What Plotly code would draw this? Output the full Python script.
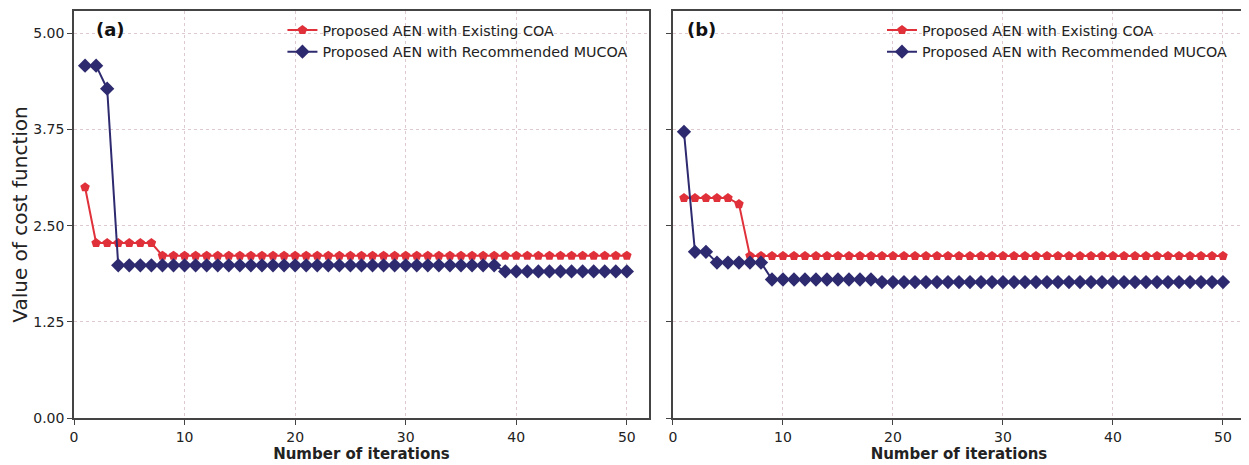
import plotly.graph_objects as go

iterations = list(range(1, 51))

# Panel (a)
a_existing = [3.00] + [2.275] * 6 + [2.11] * 43
a_mucoa = [4.58, 4.58, 4.28] + [1.985] * 35 + [1.905] * 12

# Panel (b)
b_existing = [2.86] * 5 + [2.78] + [2.107] * 44
b_mucoa = [3.72, 2.16, 2.16] + [2.02] * 5 + [1.80] * 10 + [1.767] * 32

y_ticks = [0.0, 1.25, 2.5, 3.75, 5.0]
y_tick_labels = ["0.00", "1.25", "2.50", "3.75", "5.00"]
x_ticks = [0, 10, 20, 30, 40, 50]

name_existing = "Proposed AEN with Existing COA"
name_mucoa = "Proposed AEN with Recommended MUCOA"

RED = "#E0313B"
BLUE = "#2E2A6F"
FONT = "DejaVu Sans"

fig = go.Figure()

def add_pair(xaxis, yaxis, existing, mucoa, legend):
    fig.add_trace(go.Scatter(
        x=iterations, y=existing, mode="lines+markers", name=name_existing,
        line=dict(color=RED, width=2),
        marker=dict(symbol="pentagon", size=10, color=RED),
        xaxis=xaxis, yaxis=yaxis, legend=legend))
    fig.add_trace(go.Scatter(
        x=iterations, y=mucoa, mode="lines+markers", name=name_mucoa,
        line=dict(color=BLUE, width=2),
        marker=dict(symbol="diamond", size=11, color=BLUE),
        xaxis=xaxis, yaxis=yaxis, legend=legend))

add_pair("x", "y", a_existing, a_mucoa, "legend")
add_pair("x2", "y2", b_existing, b_mucoa, "legend2")

axis_common = dict(
    showline=True, mirror=True, linecolor="#444444", linewidth=1.6,
    ticks="outside", ticklen=5, tickcolor="#444444", tickwidth=1.2,
    showgrid=True, gridcolor="#DCCACE", griddash="dot", gridwidth=1,
    zeroline=False, tickfont=dict(family=FONT, size=14, color="#222222"),
)

xa = dict(axis_common, range=[0, 52], tickvals=x_ticks,
          title=dict(text="<b>Number of iterations</b>", font=dict(family=FONT, size=15, color="#222222"), standoff=5))
fig.update_layout(
    xaxis=dict(xa, domain=[0, 0.491], anchor="y"),
    xaxis2=dict(xa, domain=[0.5115, 1.0], anchor="y2"),
    yaxis=dict(axis_common, range=[0, 5.29], tickvals=y_ticks, ticktext=y_tick_labels,
               domain=[0, 1], anchor="x",
               title=dict(text="Value of cost function", font=dict(family=FONT, size=20, color="#222222"), standoff=5)),
    yaxis2=dict(axis_common, range=[0, 5.29], tickvals=y_ticks, ticktext=y_tick_labels,
                showticklabels=False, domain=[0, 1], anchor="x2"),
)

legend_common = dict(
    bgcolor="rgba(0,0,0,0)", borderwidth=0,
    font=dict(family=FONT, size=14.3, color="#222222"),
    xanchor="left", yanchor="top", tracegroupgap=0, itemwidth=30,
)
fig.update_layout(
    legend=dict(legend_common, x=0.178, y=0.992),
    legend2=dict(legend_common, x=0.690, y=0.992),
)

fig.add_annotation(text="<b>(a)</b>", xref="paper", yref="paper", x=0.017, y=0.955,
                   xanchor="left", yanchor="middle", showarrow=False,
                   font=dict(family=FONT, size=18, color="#111111"))
fig.add_annotation(text="<b>(b)</b>", xref="paper", yref="paper", x=0.5215, y=0.955,
                   xanchor="left", yanchor="middle", showarrow=False,
                   font=dict(family=FONT, size=18, color="#111111"))

# The page body adds an 8px offset; size and margins compensate for it.
fig.update_layout(
    width=1241, height=457,
    margin=dict(l=66, r=4, t=1, b=47),
    paper_bgcolor="white", plot_bgcolor="white",
    font=dict(family=FONT),
)

fig.write_html("out.html")
